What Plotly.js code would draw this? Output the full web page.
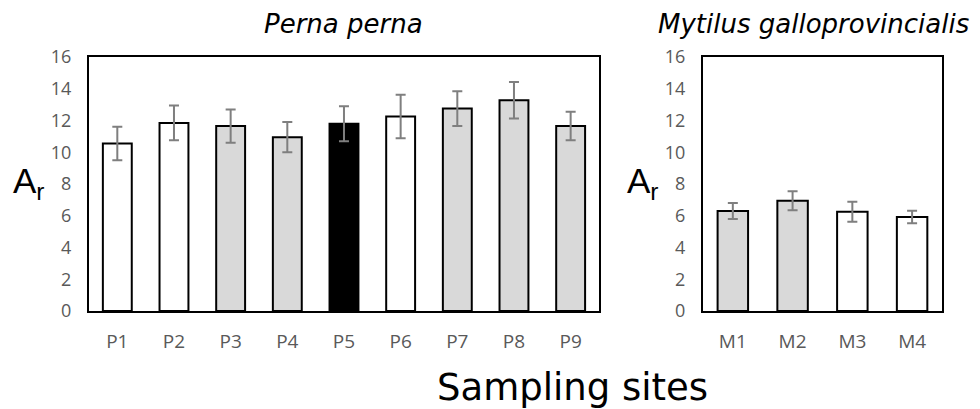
<!DOCTYPE html>
<html>
<head>
<meta charset="utf-8">
<script src="https://cdn.plot.ly/plotly-3.0.1.min.js"></script>
<style>html,body{margin:0;padding:0;background:#fff;}#chart{width:980px;height:409px;}</style>
</head>
<body>
<div id="chart"></div>
<script>
// Perna perna sites
const pernaSites = ["P1","P2","P3","P4","P5","P6","P7","P8","P9"];
const pernaAr = [10.55, 11.85, 11.65, 10.95, 11.8, 12.25, 12.75, 13.27, 11.65];
const pernaErr = [1.05, 1.1, 1.05, 0.95, 1.1, 1.37, 1.1, 1.15, 0.9];
const pernaColors = ["#ffffff","#ffffff","#d9d9d9","#d9d9d9","#000000","#ffffff","#d9d9d9","#d9d9d9","#d9d9d9"];
// Mytilus galloprovincialis sites
const mytilusSites = ["M1","M2","M3","M4"];
const mytilusAr = [6.3, 6.95, 6.25, 5.92];
const mytilusErr = [0.5, 0.6, 0.63, 0.4];
const mytilusColors = ["#d9d9d9","#d9d9d9","#ffffff","#ffffff"];
const yTicks = [0,2,4,6,8,10,12,14,16];

const yTickFont = {family: "Open Sans, Lato, sans-serif", size: 18, color: "#595959"};
const xTickFont = {family: "Open Sans, Lato, sans-serif", size: 19, color: "#595959"};
const errStyle = {type: "data", visible: true, color: "#7f7f7f", thickness: 2, width: 5};

const traces = [
  {type: "bar", x: pernaSites, y: pernaAr, xaxis: "x", yaxis: "y",
   marker: {color: pernaColors, line: {color: "#000", width: 2}},
   error_y: Object.assign({array: pernaErr}, errStyle), showlegend: false, hoverinfo: "x+y"},
  {type: "bar", x: mytilusSites, y: mytilusAr, xaxis: "x2", yaxis: "y2",
   marker: {color: mytilusColors, line: {color: "#000", width: 2}},
   error_y: Object.assign({array: mytilusErr}, errStyle), showlegend: false, hoverinfo: "x+y"}
];

const yax = {range: [0, 16], tickvals: yTicks, ticktext: yTicks.map(String), showgrid: false, zeroline: false,
  showline: true, mirror: true, linecolor: "#000", linewidth: 2, ticks: "outside", ticklen: 12, tickcolor: "rgba(0,0,0,0)",
  tickfont: yTickFont, domain: [0.2396, 0.8606], fixedrange: true};
const xax = {showgrid: false, zeroline: false, showline: true, mirror: true, linecolor: "#000", linewidth: 2,
  ticks: "outside", ticklen: 12, tickcolor: "rgba(0,0,0,0)", tickfont: xTickFont, fixedrange: true};

const layout = {
  width: 980, height: 409,
  margin: {l: 0, r: 0, t: 0, b: 0},
  paper_bgcolor: "#fff", plot_bgcolor: "#fff",
  bargap: 0.49,
  xaxis: Object.assign({}, xax, {domain: [0.0908, 0.6112], anchor: "y"}),
  yaxis: Object.assign({}, yax, {anchor: "x"}),
  xaxis2: Object.assign({}, xax, {domain: [0.7173, 0.9612], anchor: "y2"}),
  yaxis2: Object.assign({}, yax, {anchor: "x2"}),
  annotations: [
    {text: "<i>Perna perna</i>", xref: "paper", yref: "paper", x: 343/980, y: 1 - 24/409, xanchor: "center", yanchor: "middle",
     showarrow: false, font: {family: "DejaVu Sans, sans-serif", size: 26, color: "#000"}},
    {text: "<i>Mytilus galloprovincialis</i>", xref: "paper", yref: "paper", x: 813/980, y: 1 - 24/409, xanchor: "center", yanchor: "middle",
     showarrow: false, font: {family: "DejaVu Sans, sans-serif", size: 26, color: "#000"}},
    {text: "A<sub>r</sub>", xref: "paper", yref: "paper", x: 11/980, y: 1 - 183/409, xanchor: "left", yanchor: "middle",
     showarrow: false, font: {family: "Liberation Sans, Arial, sans-serif", size: 35, color: "#000"}},
    {text: "A<sub>r</sub>", xref: "paper", yref: "paper", x: 625/980, y: 1 - 183/409, xanchor: "left", yanchor: "middle",
     showarrow: false, font: {family: "Liberation Sans, Arial, sans-serif", size: 35, color: "#000"}},
    {text: "Sampling sites", xref: "paper", yref: "paper", x: 572/980, y: 1 - 387/409, xanchor: "center", yanchor: "middle",
     showarrow: false, font: {family: "DejaVu Sans, sans-serif", size: 37, color: "#000"}}
  ]
};

Plotly.newPlot("chart", traces, layout, {staticPlot: true, displayModeBar: false});
</script>
</body>
</html>
